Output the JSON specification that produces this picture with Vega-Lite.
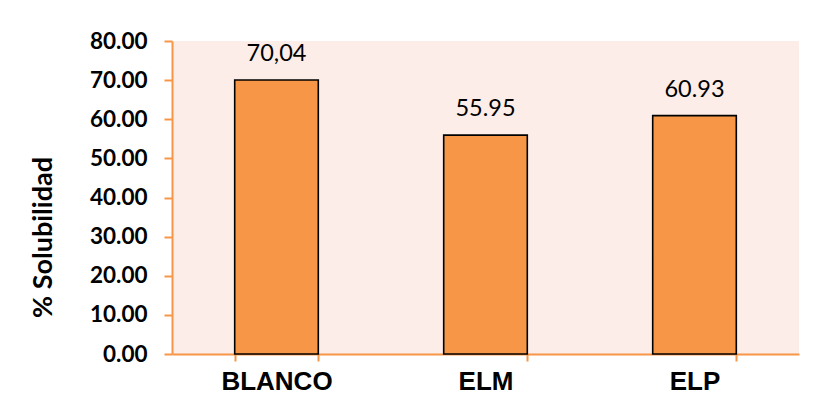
{
  "$schema": "https://vega.github.io/schema/vega-lite/v6.json",
  "autosize": "none",
  "width": 627,
  "height": 313,
  "padding": {"left": 172, "top": 41, "right": 15, "bottom": 58},
  "background": "#ffffff",
  "data": {"values": [
    {"muestra": "BLANCO", "solubilidad": 70.04, "etiqueta": "70,04"},
    {"muestra": "ELM", "solubilidad": 55.95, "etiqueta": "55.95"},
    {"muestra": "ELP", "solubilidad": 60.93, "etiqueta": "60.93"}
  ]},
  "config": {
    "view": {"fill": "#FCEDE8", "stroke": null}
  },
  "encoding": {
    "x": {
      "field": "muestra", "type": "nominal", "sort": null,
      "scale": {"paddingInner": 0.6, "paddingOuter": 0.3},
      "axis": {
        "title": null, "labelAngle": 0, "tickBand": "extent",
        "domainColor": "#F79646", "domainWidth": 2, "tickColor": "#F79646", "tickWidth": 2, "tickSize": 7,
        "labelFont": "Liberation Sans", "labelFontWeight": "bold", "labelFontSize": 26, "labelColor": "#000000",
        "labelPadding": 7
      }
    },
    "y": {
      "field": "solubilidad", "type": "quantitative",
      "scale": {"domain": [0, 80], "nice": false},
      "axis": {
        "title": "% Solubilidad", "titleFont": "Lato", "titleFontWeight": "bold", "titleFontSize": 27, "titleColor": "#000000", "titlePadding": 32, "titleY": 196,
        "values": [0, 10, 20, 30, 40, 50, 60, 70, 80], "format": ".2f", "grid": false,
        "domainColor": "#F79646", "domainWidth": 2, "tickColor": "#F79646", "tickWidth": 2, "tickSize": 8,
        "labelFont": "Lato", "labelFontWeight": "bold", "labelFontSize": 22.5, "labelColor": "#000000", "labelPadding": 17
      }
    }
  },
  "layer": [
    {"mark": {"type": "bar", "color": "#F79646", "stroke": "#000000", "strokeWidth": 1.6}},
    {"mark": {"type": "text", "font": "Lato", "fontSize": 23.5, "color": "#000000", "baseline": "alphabetic", "dy": -19},
     "encoding": {"text": {"field": "etiqueta"}}}
  ]
}
